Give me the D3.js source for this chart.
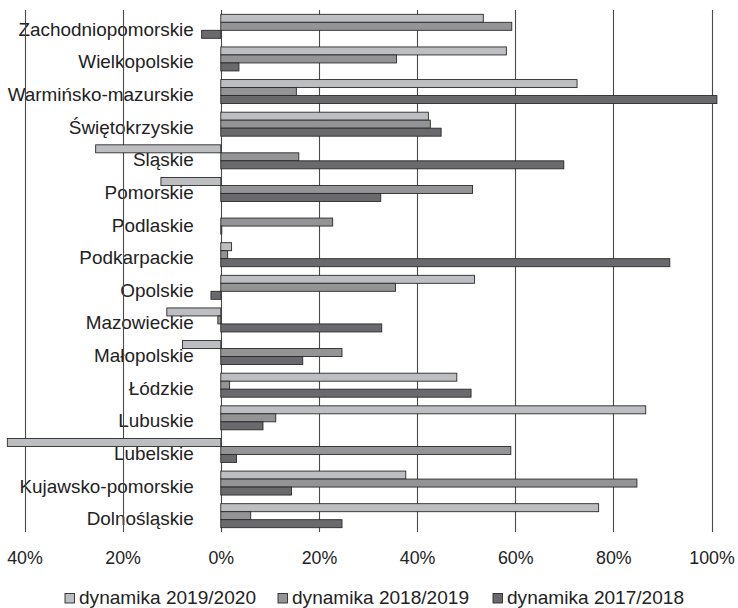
<!DOCTYPE html>
<html>
<head>
<meta charset="utf-8">
<script src="https://cdn.jsdelivr.net/npm/d3@7"></script>
<style>
  html, body { margin: 0; padding: 0; background: #fff; }
  svg { display: block; }
  text { font-family: "Liberation Sans", Arial, sans-serif; fill: #222; }
</style>
</head>
<body>
<script>
// ---- data ----
const categories = [
  "Zachodniopomorskie", "Wielkopolskie", "Warmińsko-mazurskie", "Świętokrzyskie",
  "Śląskie", "Pomorskie", "Podlaskie", "Podkarpackie", "Opolskie", "Mazowieckie",
  "Małopolskie", "Łódzkie", "Lubuskie", "Lubelskie", "Kujawsko-pomorskie", "Dolnośląskie"
];
const seriesNames = ["dynamika 2019/2020", "dynamika 2018/2019", "dynamika 2017/2018"];
const dyn2019_2020 = [53.5, 58.2, 72.6, 42.3, -25.5, -12.2, 0, 2.2, 51.7, -11.0, -7.8, 48.1, 86.6, -43.5, 37.7, 77.0];
const dyn2018_2019 = [59.3, 35.8, 15.4, 42.7, 15.9, 51.3, 22.8, 1.4, 35.6, -0.6, 24.7, 1.8, 11.2, 59.1, 84.8, 6.1];
const dyn2017_2018 = [-3.9, 3.7, 101.1, 44.9, 69.9, 32.6, 0.2, 91.5, -2.0, 32.8, 16.7, 51.0, 8.6, 3.2, 14.4, 24.7];
const tickValues = [-40, -20, 0, 20, 40, 60, 80, 100];
const seriesValues = [dyn2019_2020, dyn2018_2019, dyn2017_2018];
const colors = ["#bdbec2", "#949497", "#6a6a6e"];

// ---- layout ----
const W = 738, H = 608;
const svg = d3.select("body").append("svg").attr("width", W).attr("height", H);

const x = d3.scaleLinear().domain([-40, 100]).range([24.5, 711.5]);
const y0 = d3.scaleBand().domain(categories).range([10, 532]).padding(0);
const y1 = d3.scaleBand().domain(seriesNames).range([0, y0.bandwidth()]).paddingInner(0).paddingOuter(0.54);

// category labels
svg.append("g").selectAll("text").data(categories).join("text")
  .attr("transform", d => `translate(${x(0) - 27},${y0(d) + y0.bandwidth() / 2 + 9.5}) scale(1.08,1)`)
  .attr("text-anchor", "end")
  .style("font-size", "17.5px")
  .text(d => d);

// gridlines
svg.append("g").selectAll("line").data(tickValues).join("line")
  .attr("x1", d => Math.round(x(d)) + 0.5).attr("x2", d => Math.round(x(d)) + 0.5)
  .attr("y1", 10).attr("y2", 532)
  .attr("stroke", "#4a4a4a").attr("stroke-width", 1.1);

// bars
const rows = categories.map((c, i) => ({ c, vals: seriesNames.map((s, j) => ({ s, j, v: seriesValues[j][i] })) }));
const gRows = svg.append("g").selectAll("g").data(rows).join("g")
  .attr("transform", d => `translate(0,${y0(d.c)})`);
gRows.selectAll("rect").data(d => d.vals.filter(e => e.v !== 0)).join("rect")
  .attr("x", d => x(Math.min(0, d.v)))
  .attr("width", d => Math.max(0.8, Math.abs(x(d.v) - x(0))))
  .attr("y", d => y1(d.s))
  .attr("height", y1.bandwidth())
  .attr("fill", d => colors[d.j])
  .attr("stroke", "#2a2a2a").attr("stroke-width", 0.9);

// x axis labels
const axis = d3.axisBottom(x).tickValues(tickValues).tickSize(0).tickPadding(0)
  .tickFormat(d => Math.abs(d) + "%");
const gAxis = svg.append("g").attr("transform", "translate(0,551)").call(axis);
gAxis.select(".domain").remove();
gAxis.selectAll("text")
  .attr("dy", "0.71em")
  .style("font-size", "17.8px")
  .style("font-family", "'Liberation Sans', Arial, sans-serif")
  .attr("fill", "#222");

// legend
const legendX = [65, 278, 493];
const lg = svg.append("g").selectAll("g").data(seriesNames).join("g")
  .attr("transform", (d, i) => `translate(${legendX[i]},593.5)`);
lg.append("rect").attr("width", 9.5).attr("height", 9.5)
  .attr("fill", (d, i) => colors[i]).attr("stroke", "#2a2a2a").attr("stroke-width", 0.9);
lg.append("text")
  .attr("transform", "translate(14,10.5) scale(1.09,1)")
  .style("font-size", "17.5px")
  .text(d => d);
</script>
</body>
</html>
